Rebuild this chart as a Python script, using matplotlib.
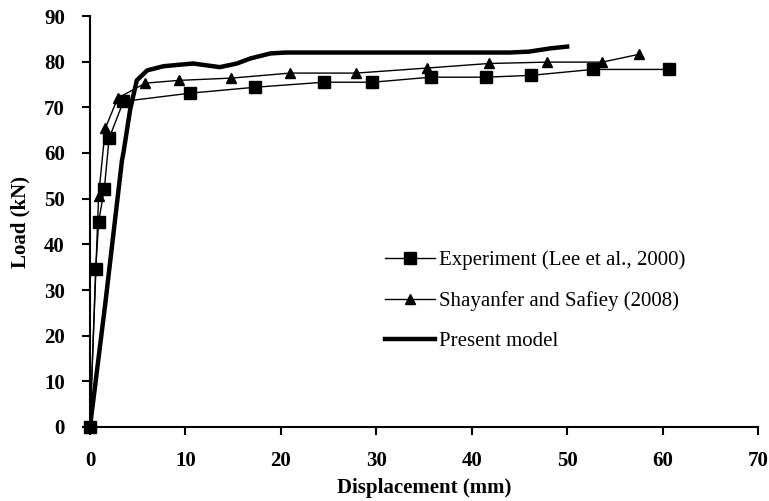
import matplotlib.pyplot as plt

plt.rcParams['font.family'] = ['Liberation Serif', 'DejaVu Serif']

# Experiment (Lee et al., 2000)
exp_disp = [0.0, 0.6, 0.9, 1.5, 2.0, 3.5, 10.5, 17.3, 24.5, 29.6, 35.7, 41.5, 46.2, 52.7, 60.7]
exp_load = [0.0, 34.6, 44.9, 52.1, 63.2, 71.3, 73.1, 74.4, 75.5, 75.5, 76.6, 76.6, 77.0, 78.3, 78.3]

# Shayanfer and Safiey (2008)
fe_disp = [0.0, 0.9, 1.6, 2.9, 5.8, 9.3, 14.8, 21.0, 27.9, 35.3, 41.8, 47.9, 53.7, 57.5]
fe_load = [0.0, 50.5, 65.4, 72.0, 75.3, 75.9, 76.4, 77.5, 77.5, 78.6, 79.6, 79.9, 79.9, 81.6]

# Present model
model_disp = [0.0, 1.6, 3.35, 3.5, 4.2, 4.9, 6.0, 7.7, 10.8, 13.6, 15.4, 16.8, 18.9, 20.5,
              30.0, 40.6, 44.0, 46.0, 48.2, 50.0]
model_load = [0.0, 27.0, 58.4, 60.0, 69.4, 75.9, 78.1, 79.0, 79.6, 78.8, 79.6, 80.7, 81.8, 82.0,
              82.0, 82.0, 82.0, 82.2, 82.9, 83.3]

fig = plt.figure(figsize=(7.69, 5.01), dpi=100)
ax = fig.add_axes([90 / 769, 74 / 501, 668 / 769, 411 / 501])

ax.plot(exp_disp, exp_load, color='black', lw=1.0, marker='s', ms=8, clip_on=False,
        label='Experiment (Lee et al., 2000)')
ax.plot(fe_disp, fe_load, color='black', lw=1.0, marker='^', ms=7, clip_on=False,
        label='Shayanfer and Safiey (2008)')
ax.plot(model_disp, model_load, color='black', lw=3.2, label='Present model')

ax.set_xlim(0, 70)
ax.set_ylim(0, 90)
ax.set_xticks(range(0, 71, 10))
ax.set_yticks(range(0, 91, 10))
ax.spines['top'].set_visible(False)
ax.spines['right'].set_visible(False)
ax.spines['left'].set_linewidth(1.5)
ax.spines['bottom'].set_linewidth(1.5)
ax.tick_params(direction='out', length=6, width=1.5, labelsize=15)
ax.tick_params(axis='x', pad=11)
ax.tick_params(axis='y', pad=12)
for lbl in ax.get_xticklabels() + ax.get_yticklabels():
    lbl.set_fontweight('bold')

ax.set_xlabel('Displacement (mm)', fontsize=15, fontweight='bold', labelpad=5)
ax.set_ylabel('Load (kN)', fontsize=15, fontweight='bold', labelpad=10)

ax.legend(loc='upper left', bbox_to_anchor=(0.426, 0.455), frameon=False,
          fontsize=15, handlelength=2.4, handletextpad=0.2, labelspacing=1.0,
          numpoints=1, borderpad=0)

fig.savefig('out.png', dpi=100)
